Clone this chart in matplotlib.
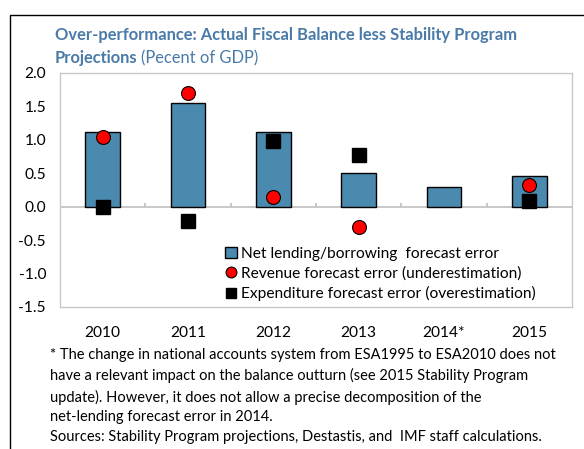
import numpy as np
import matplotlib.pyplot as plt
from matplotlib.lines import Line2D

plt.rcParams['font.family'] = ['Lato', 'DejaVu Sans']

years = ['2010', '2011', '2012', '2013', '2014*', '2015']
net_lending = [1.12, 1.55, 1.12, 0.50, 0.30, 0.46]
revenue = [1.05, 1.70, 0.15, -0.30, np.nan, 0.33]
expenditure = [0.0, -0.22, 0.98, 0.78, np.nan, 0.08]

footnote = ("* The change in national accounts system from ESA1995 to ESA2010 does not\n"
            "have a relevant impact on the balance outturn (see 2015 Stability Program\n"
            "update). However, it does not allow a precise decomposition of the\n"
            "net-lending forecast error in 2014.\n"
            "Sources: Stability Program projections, Destastis, and  IMF staff calculations.")

bar_color = '#4a8aae'
title_color = '#4a7aa8'
fs = 11.2

fig = plt.figure(figsize=(5.84, 4.49), dpi=100)
ax = fig.add_axes([60 / 584, 1 - 307 / 449, 512 / 584, 234 / 449])

x = np.arange(len(years))
bars = ax.bar(x, net_lending, width=0.41, color=bar_color, edgecolor='black', linewidth=1,
              zorder=2)
rev, = ax.plot(x, revenue, 'o', ms=10, mfc='red', mec='black', mew=0.8, zorder=4)
exp, = ax.plot(x, expenditure, 's', ms=10, mfc='black', mec='black', zorder=3)

ax.axhline(0, color='#bfbfbf', lw=1.2, zorder=1)
ax.vlines(x[:-1] + 0.5, 0, 0.05, color='#bfbfbf', lw=1.2, zorder=1)

ax.set_xlim(-0.5, len(years) - 0.5)
ax.set_ylim(-1.5, 2.0)
yt = np.arange(-1.5, 2.01, 0.5)
ax.set_yticks(yt)
ax.set_yticklabels([f'{v:.1f}' for v in yt], fontsize=fs)
ax.set_xticks(x)
ax.set_xticklabels(years, fontsize=fs)
ax.tick_params(axis='both', length=0)
ax.tick_params(axis='x', pad=14)
ax.tick_params(axis='y', pad=10)
for s in ax.spines.values():
    s.set_color('#c8c8c8')
    s.set_linewidth(1)

ax.legend([bars, rev, exp],
          ['Net lending/borrowing  forecast error',
           'Revenue forecast error (underestimation)',
           'Expenditure forecast error (overestimation)'],
          loc='lower left', bbox_to_anchor=(0.322, 0.025), frameon=False,
          fontsize=fs, handlelength=0.75, handletextpad=0.3, markerscale=0.78,
          labelspacing=0.35, borderaxespad=0, borderpad=0)

fig.text(55 / 584, 1 - 35 / 449, 'Over-performance: Actual Fiscal Balance less Stability Program',
         fontsize=fs + 0.7, fontweight='bold', color=title_color, va='center')
t = fig.text(55 / 584, 1 - 58 / 449, 'Projections', fontsize=fs + 0.7, fontweight='bold',
             color=title_color, va='center')
fig.canvas.draw()
bb = t.get_window_extent()
fig.text(bb.x1 / fig.bbox.width + 0.006, 1 - 58 / 449, '(Pecent of GDP)', fontsize=fs + 0.7,
         color=title_color, va='center')

fig.text(50 / 584, 1 - 348 / 449, footnote, fontsize=10.5, va='top', linespacing=1.52)

fig.add_artist(Line2D([10 / 584, 10 / 584, 1.0], [0, 1 - 15 / 449, 1 - 15 / 449],
                      transform=fig.transFigure, color='black', lw=1))

fig.savefig('out.png', dpi=100)
